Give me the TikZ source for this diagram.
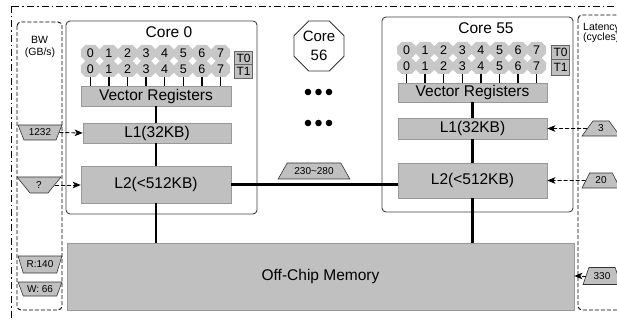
\documentclass[tikz,border=0pt]{standalone}
\usepackage{fontspec}
\setmainfont{Liberation Sans}
\usetikzlibrary{arrows.meta,shapes.geometric,calc}
\definecolor{boxgray}{HTML}{C0C0C0}
\definecolor{octgray}{HTML}{C8C8C8}
\begin{document}
\begin{tikzpicture}[x=1pt,y=-1pt,
  cache/.style={draw=black!40, fill=boxgray, line width=0.6pt, inner sep=0pt, font=\fontsize{15.5}{18}\selectfont},
  corebox/.style={draw=black!75, line width=0.9pt, rounded corners=4pt, inner sep=0pt},
  title/.style={font=\fontsize{15.5}{18}\selectfont, inner sep=0pt},
  octtext/.style={font=\fontsize{12.5}{14}\selectfont, inner sep=0pt},
  tbox/.style={draw=black!60, fill=boxgray, line width=0.5pt, inner sep=0pt, minimum width=18pt, font=\fontsize{12}{14}\selectfont},
  bus/.style={line width=2.4pt},
  tick/.style={line width=1.4pt},
  dasharrow/.style={line width=0.9pt, dash pattern=on 4pt off 2pt, -{Stealth[length=8pt,width=6.5pt,inset=2pt]}},
  tzl/.style={trapezium, trapezium stretches=true, shape border rotate=180, trapezium angle=60, draw=black!80, fill=boxgray, line width=0.6pt, inner sep=0pt, minimum width=44pt, minimum height=15pt, font=\fontsize{10}{12}\selectfont},
  tzr/.style={trapezium, trapezium stretches=true, trapezium angle=62, draw=black!80, fill=boxgray, line width=0.6pt, inner sep=0pt, minimum width=38pt, minimum height=15pt, font=\fontsize{10}{12}\selectfont},
  small/.style={font=\fontsize{10.5}{12}\selectfont, inner sep=0pt}
]
\useasboundingbox (0,0) rectangle (617,320);
\clip (0,0) rectangle (617,320);

% outer frame
\draw[line width=0.9pt, dash pattern=on 7pt off 3pt on 1.5pt off 3pt] (11,6) rectangle (650,350);

% BW column
\draw[line width=0.9pt, dash pattern=on 4pt off 2pt, rounded corners=4pt] (17,22) rectangle (62,310);
\node[small] (bw) at (39.5,40) {BW};
\node[small] (gbs) at (40,52.5) {(GB/s)};
% Latency column
\draw[line width=0.9pt, dash pattern=on 4pt off 2pt, rounded corners=4pt] (578,15) rectangle (640,310);
\node[small, anchor=west] (lat) at (583,28) {Latency};
\node[small, anchor=west] (cyc) at (583,37.5) {(cycles)};

% Core boxes
\node[corebox, minimum width=191pt, minimum height=193pt] (core0) at (161.5,117.5) {};
\node[corebox, minimum width=191pt, minimum height=195pt] (core55) at (477.5,114.5) {};
\node[title] (t0) at (169,32) {Core 0};
\node[title] (t55) at (486,28) {Core 55};

% octagons
\foreach \i in {0,...,7}{
  \pgfmathsetmacro{\cx}{90.3+18.6*\i}
  \pgfmathsetmacro{\cxb}{406.5+18.6*\i}
  \foreach \cy/\r in {53/a,69/b}{
    \fill[octgray] (\cx-9.5,\cy-3.5) -- ++(4.5,-4.5) -- ++(10,0) -- ++(4.5,4.5) -- ++(0,7) -- ++(-4.5,4.5) -- ++(-10,0) -- ++(-4.5,-4.5) -- cycle;
    \node[octtext] (oa\r\i) at (\cx,\cy+0.5) {\i};
  }
  \foreach \cy/\r in {50/a,66/b}{
    \fill[octgray] (\cxb-9.5,\cy-3.5) -- ++(4.5,-4.5) -- ++(10,0) -- ++(4.5,4.5) -- ++(0,7) -- ++(-4.5,4.5) -- ++(-10,0) -- ++(-4.5,-4.5) -- cycle;
    \node[octtext] (ob\r\i) at (\cxb,\cy+0.5) {\i};
  }
}

% T boxes
\node[tbox, minimum height=13pt] (c0T0) at (243.5,58) {T0};
\node[tbox, minimum height=13.5pt] (c0T1) at (243.5,71.25) {T1};
\node[tbox, minimum height=14.5pt] (c55T0) at (560.5,52.25) {T0};
\node[tbox, minimum height=15.5pt] (c55T1) at (560.5,67.25) {T1};

% caches core 0
\node[cache, minimum width=150pt, minimum height=20pt] (VRa) at (156,96) {Vector Registers};
\node[cache, minimum width=148pt, minimum height=20pt] (L1a) at (157,133) {L1(32KB)};
\node[cache, minimum width=150pt, minimum height=37pt] (L2a) at (156,184.5) {L2(<512KB)};
% caches core 55
\node[cache, minimum width=149pt, minimum height=19pt] (VRb) at (472.5,92.5) {Vector Registers};
\node[cache, minimum width=149pt, minimum height=21pt] (L1b) at (472.5,128.5) {L1(32KB)};
\node[cache, minimum width=149pt, minimum height=35pt] (L2b) at (472.5,180.5) {L2(<512KB)};
% memory
\node[cache, minimum width=507pt, minimum height=67pt] (mem) at (320.5,276.5) {Off-Chip Memory};

% ticks
\foreach \i in {0,...,7}{
  \draw[tick] ($(obb\i)+(0,7.5)$) -- (obb\i |- VRb.north);
  \draw[tick] ($(oab\i)+(0,7.5)$) -- (oab\i |- VRa.north);
}

% buses
\draw[bus] (VRa.south -| 156,0) -- (L1a.north -| 156,0);
\draw[bus] (L1a.south -| 156,0) -- (L2a.north -| 156,0);
\draw[bus] (L2a.south) -- (L2a.south |- mem.north);
\draw[bus] (VRb.south) -- (L1b.north);
\draw[bus] (L1b.south) -- (L2b.north);
\draw[bus] (L2b.south) -- (L2b.south |- mem.north);
\draw[bus] (L2a.east) -- (L2a.east -| L2b.west);

% Core 56 and dots
\node[regular polygon, regular polygon sides=8, minimum size=54pt, draw=black!80, line width=0.8pt, fill=white, inner sep=0pt, align=center, font=\fontsize{15}{19}\selectfont] (core56) at (319,46) {Core\\56};
\foreach \y in {92,123}{
  \foreach \x in {308,318.5,329}{
    \fill (\x,\y) circle (3.3pt);
  }
}

% trapezoid labels
\node[tzr, trapezium angle=47, minimum width=72pt, minimum height=16pt] (ring) at (314,171) {230\textasciitilde 280};
\node[tzl] (bw1) at (40,132.5) {1232};
\node[tzl, minimum height=16pt] (bw2) at (39,185) {?};
\node[tzl, minimum height=17pt] (bwr) at (40,264.5) {R:140};
\node[tzl, minimum height=14pt] (bww) at (40,289) {W: 66};
\node[tzr] (lt1) at (601,128.5) {3};
\node[tzr] (lt2) at (601,180.5) {20};
\node[tzr, minimum height=17pt] (lt3) at (602,276) {330};

% dashed arrows
\draw[dasharrow] (bw1.east) -- (L1a.west);
\draw[dasharrow] (bw2.east) -- (bw2.east -| L2a.west);
\draw[dasharrow] (lt1.west) -- (L1b.east);
\draw[dasharrow] (lt2.west) -- (L2b.east);
\draw[dasharrow] (lt3.west) -- (lt3.west -| mem.east);
\end{tikzpicture}
\end{document}
